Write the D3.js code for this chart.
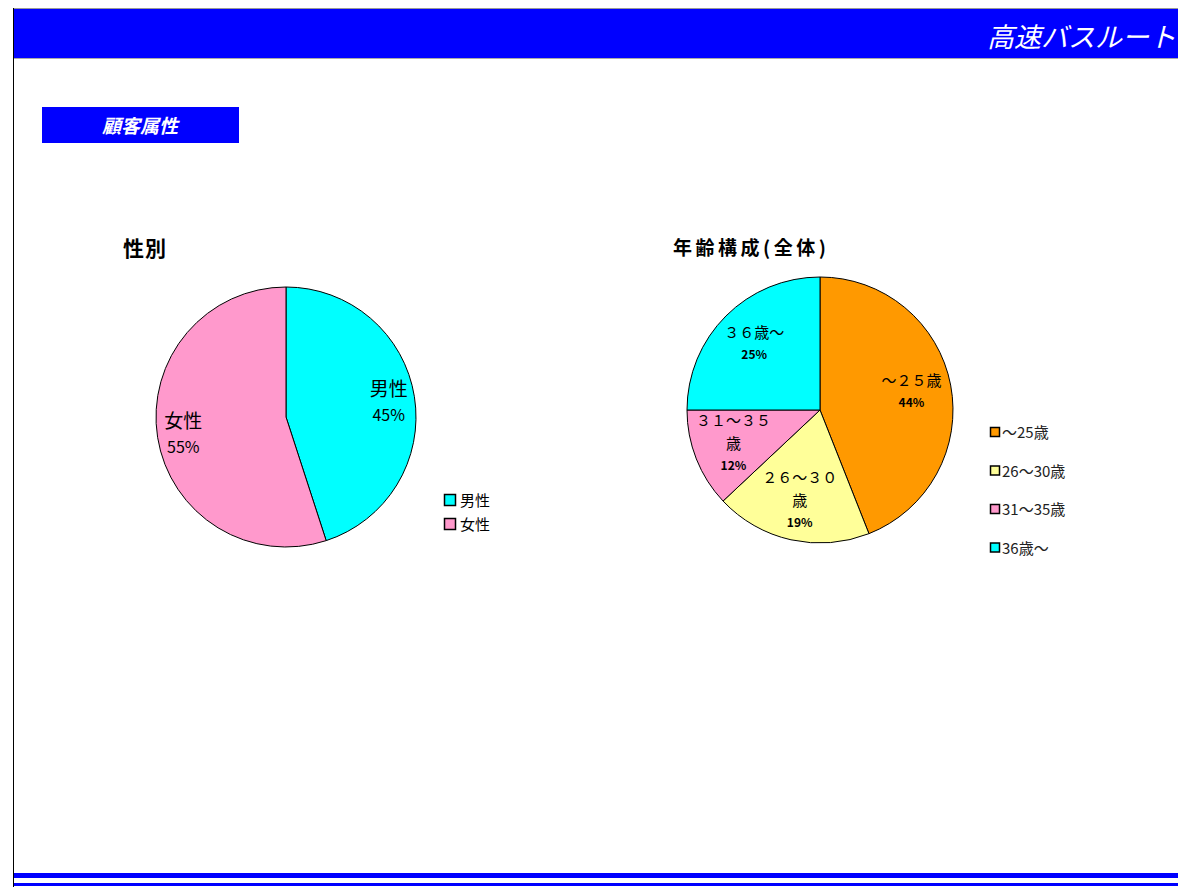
<!DOCTYPE html>
<html>
<head>
<meta charset="utf-8">
<script src="https://cdn.jsdelivr.net/npm/d3@7"></script>
<style>
body { margin: 0; background: #fff; }
text { font-family: "Noto Sans CJK JP", sans-serif; }
</style>
</head>
<body>
<svg id="chart" width="1178" height="887"></svg>
<script>
// gender data
var genderLabels = ["男性", "女性"];
var genderValues = [45, 55];
var genderColors = ["#00ffff", "#ff99cc"];

// age data
var ageLabels = ["～25歳", "26～30歳", "31～35歳", "36歳～"];
var ageSliceText = [["～２５歳"], ["２６～３０", "歳"], ["３１～３５", "歳"], ["３６歳～"]];
var ageValues = [44, 19, 12, 25];
var ageColors = ["#ff9900", "#ffff99", "#ff99cc", "#00ffff"];

var svg = d3.select("#chart");

// page frame: header, left rule, footer
svg.append("rect").attr("x", 13).attr("y", 9).attr("width", 1165).attr("height", 49).attr("fill", "#0000ff");
svg.append("line").attr("x1", 13).attr("x2", 1178).attr("y1", 8.5).attr("y2", 8.5).attr("stroke", "#999");
svg.append("line").attr("x1", 13).attr("x2", 1178).attr("y1", 58.5).attr("y2", 58.5).attr("stroke", "#aaa");
svg.append("text")
    .attr("x", 1176).attr("y", 47)
    .attr("text-anchor", "end")
    .attr("fill", "#fff").attr("font-size", 27).attr("font-style", "italic")
    .text("高速バスルート");
svg.append("line").attr("x1", 13.5).attr("x2", 13.5).attr("y1", 8).attr("y2", 887).attr("stroke", "#000");
svg.append("rect").attr("x", 14).attr("y", 873).attr("width", 1164).attr("height", 5).attr("fill", "#0000ff");
svg.append("rect").attr("x", 14).attr("y", 883).attr("width", 1164).attr("height", 3).attr("fill", "#0000ff");

// section label
svg.append("rect").attr("x", 42).attr("y", 107).attr("width", 197).attr("height", 36).attr("fill", "#0000ff");
svg.append("text")
    .attr("x", 140).attr("y", 133)
    .attr("text-anchor", "middle").attr("fill", "#fff")
    .attr("font-size", 19).attr("font-weight", "bold").attr("font-style", "italic")
    .text("顧客属性");

var pie = d3.pie().sort(null);

// ---- gender pie ----
var gR = 130;
var g1 = svg.append("g").attr("transform", "translate(286,417)");
var arc1 = d3.arc().innerRadius(0).outerRadius(gR);
var lab1 = d3.arc().innerRadius(gR * 0.8).outerRadius(gR * 0.8);

g1.selectAll("path")
    .data(pie(genderValues))
    .enter().append("path")
    .attr("d", arc1)
    .attr("fill", function(d, i) { return genderColors[i]; })
    .attr("stroke", "#000").attr("stroke-width", 1);

g1.selectAll(".lbl")
    .data(pie(genderValues))
    .enter().append("text")
    .attr("class", "lbl")
    .attr("transform", function(d) { return "translate(" + lab1.centroid(d) + ")"; })
    .attr("text-anchor", "middle")
    .each(function(d, i) {
        var t = d3.select(this);
        t.append("tspan").attr("x", 0).attr("y", -5).attr("font-size", 19).text(genderLabels[i]);
        t.append("tspan").attr("x", 0).attr("y", 20).attr("font-size", 16).text(genderValues[i] + "%");
    });

svg.append("text").attr("x", 123).attr("y", 256)
    .attr("font-size", 21).attr("font-weight", "bold").attr("letter-spacing", 1).text("性別");

var leg1 = svg.append("g").attr("transform", "translate(444,494)");
genderLabels.forEach(function(l, i) {
    leg1.append("rect").attr("x", 0.5).attr("y", i * 24 + 0.5).attr("width", 11).attr("height", 11)
        .attr("fill", genderColors[i]).attr("stroke", "#000").attr("stroke-width", 1.5);
    leg1.append("text").attr("x", 16).attr("y", i * 24 + 12).attr("font-size", 15).text(l);
});

// ---- age pie ----
var aR = 133;
var g2 = svg.append("g").attr("transform", "translate(820,410)");
var arc2 = d3.arc().innerRadius(0).outerRadius(aR);
var lab2 = d3.arc().innerRadius(aR * 0.7).outerRadius(aR * 0.7);

g2.selectAll("path")
    .data(pie(ageValues))
    .enter().append("path")
    .attr("d", arc2)
    .attr("fill", function(d, i) { return ageColors[i]; })
    .attr("stroke", "#000").attr("stroke-width", 1);

g2.selectAll(".lbl")
    .data(pie(ageValues))
    .enter().append("text")
    .attr("class", "lbl")
    .attr("transform", function(d) { return "translate(" + lab2.centroid(d) + ")"; })
    .attr("text-anchor", "middle")
    .each(function(d, i) {
        var t = d3.select(this);
        var lines = ageSliceText[i].slice();
        var n = lines.length + 1;
        var y0 = -(n - 1) * 11.5 + 5;
        lines.forEach(function(s, j) {
            t.append("tspan").attr("x", 0).attr("y", y0 + j * 23).attr("font-size", 15).text(s);
        });
        t.append("tspan").attr("x", 0).attr("y", y0 + lines.length * 23 - 2)
            .attr("font-size", 12).attr("font-weight", "bold").text(ageValues[i] + "%");
    });

svg.append("text").attr("x", 673).attr("y", 255)
    .attr("font-size", 19).attr("font-weight", "bold").attr("letter-spacing", 3.5).text("年齢構成(全体)");

var leg2 = svg.append("g").attr("transform", "translate(990,427)");
ageLabels.forEach(function(l, i) {
    leg2.append("rect").attr("x", 0.5).attr("y", i * 38.5 + 0.5).attr("width", 9).attr("height", 9)
        .attr("fill", ageColors[i]).attr("stroke", "#000").attr("stroke-width", 1.5);
    leg2.append("text").attr("x", 12).attr("y", i * 38.5 + 11).attr("font-size", 15).attr("fill", "#222").text(l);
});
</script>
</body>
</html>
